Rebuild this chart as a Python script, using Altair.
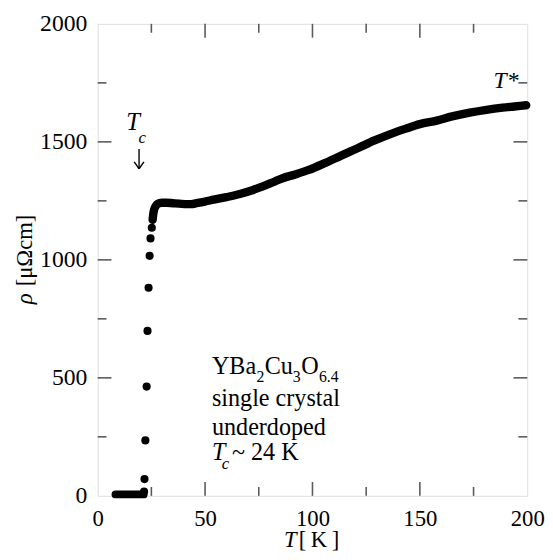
import altair as alt
import pandas as pd

# ---- data ----
# superconducting state (rho ~ 0), dense band of points
T_zero = [8.3, 21.4]
rho_zero = [6, 6]

# resolved points through the transition
T_trans = [21.6, 21.8, 22.2, 22.8, 23.2, 23.7, 24.2, 24.6, 25.2]
rho_trans = [18, 71, 235, 463, 699, 882, 1017, 1091, 1136]

# normal state (dense points, appear as a thick band)
T_norm = [25.6, 25.9, 26.3, 26.9, 27.6, 28.6, 30.0, 32.0, 35.0, 38.0, 41.7, 43.5,
          46.0, 50.0, 54.0, 60.0, 66.2, 72.0, 76.9, 82.6, 86.1, 92.0, 98.3, 106.0,
          113.6, 121.0, 128.9, 136.0, 143.5, 150.0, 157.9, 165.0, 173.2, 181.0,
          188.5, 194.0, 199.5]
rho_norm = [1170, 1195, 1213, 1226, 1235, 1240, 1242, 1242, 1240, 1238, 1236, 1236,
            1240, 1247, 1255, 1266, 1279, 1295, 1311, 1333, 1346, 1362, 1381, 1411,
            1443, 1473, 1506, 1532, 1556, 1575, 1590, 1608, 1624, 1636, 1645, 1650,
            1655]

x_labels = [0, 50, 100, 150, 200]
y_labels = [0, 500, 1000, 1500, 2000]
x_major = [50, 100, 150]
x_minor = [25, 75, 125, 175]
y_major = [500, 1000, 1500]
y_minor = [250, 750, 1250, 1750]

# Tc arrow (stem and two barbs), in data units
arrow_T1 = [19.27, 19.27, 19.27]
arrow_r1 = [1470, 1386, 1386]
arrow_T2 = [19.27, 17.0, 21.55]
arrow_r2 = [1386, 1415, 1415]

# ---- layout ----
W, H = 436, 479
FONT = "Liberation Serif"
FRAME = "#5a5a5a"
MAJ, MIN = 14, 9

xs = alt.Scale(domain=[0, 200], nice=False, zero=False)
ys = alt.Scale(domain=[0, 2000], nice=False, zero=False)

X_AXIS = alt.Axis(
    values=x_labels, format="d", title=None, grid=False, domain=False,
    ticks=False, labelFont=FONT, labelFontSize=23, labelColor="black",
    labelPadding=12, labelFlush=False)
Y_AXIS = alt.Axis(
    values=y_labels, format="d", title=None, grid=False, domain=False,
    ticks=False, labelFont=FONT, labelFontSize=24, labelColor="black",
    labelPadding=11)


def X(field="T"):
    return alt.X(f"{field}:Q", scale=xs, axis=X_AXIS)


def Y(field="rho"):
    return alt.Y(f"{field}:Q", scale=ys, axis=Y_AXIS)


df_zero = pd.DataFrame({"T": T_zero, "rho": rho_zero})
df_trans = pd.DataFrame({"T": T_trans, "rho": rho_trans})
df_norm = pd.DataFrame({"T": T_norm, "rho": rho_norm})
df_arrow = pd.DataFrame({"T": arrow_T1, "rho": arrow_r1, "T2": arrow_T2, "rho2": arrow_r2})

zero_line = alt.Chart(df_zero).mark_line(
    color="black", strokeWidth=8, strokeCap="round").encode(x=X(), y=Y())

norm_line = alt.Chart(df_norm).mark_line(
    color="black", strokeWidth=8.5, strokeCap="round", strokeJoin="round",
    interpolate="monotone").encode(x=X(), y=Y())

dots = alt.Chart(df_trans).mark_circle(color="black", size=68, opacity=1).encode(
    x=X(), y=Y())

arrow = alt.Chart(df_arrow).mark_rule(color="black", strokeWidth=1.4).encode(
    x=X(), y=Y(), x2="T2:Q", y2="rho2:Q")


def xticks(vals, length, top):
    d = pd.DataFrame({"T": vals})
    if top:
        y0, y1 = 0, length
    else:
        y0, y1 = H, H - length
    return alt.Chart(d).mark_rule(color=FRAME, strokeWidth=1.6).encode(
        x=X(), y=alt.value(y0), y2=alt.value(y1))


def yticks(vals, length, right):
    d = pd.DataFrame({"rho": vals})
    if right:
        x0, x1 = W, W - length
    else:
        x0, x1 = 0, length
    return alt.Chart(d).mark_rule(color=FRAME, strokeWidth=1.6).encode(
        y=Y(), x=alt.value(x0), x2=alt.value(x1))


tick_layers = [
    xticks(x_major, MAJ, False), xticks(x_minor, MIN, False),
    xticks(x_major, MAJ, True), xticks(x_minor, MIN, True),
    yticks(y_major, MAJ, False), yticks(y_minor, MIN, False),
    yticks(y_major, MAJ, True), yticks(y_minor, MIN, True),
]


def label(text, T, rho, size=24.5, italic=False, align="left", baseline="alphabetic"):
    d = pd.DataFrame({"T": [T], "rho": [rho], "s": [text]})
    return alt.Chart(d).mark_text(
        font=FONT, fontSize=size, fontStyle="italic" if italic else "normal",
        align=align, baseline=baseline, color="black").encode(
        x=X(), y=Y(), text="s:N")


def plabel(text, px, py, size=21, italic=False, align="left", baseline="alphabetic", angle=0):
    d = pd.DataFrame({"s": [text]})
    return alt.Chart(d).mark_text(
        font=FONT, fontSize=size, fontStyle="italic" if italic else "normal",
        align=align, baseline=baseline, angle=angle, color="black").encode(
        x=alt.value(px), y=alt.value(py), text="s:N")


annotations = [
    # compound annotation
    label("YBa", 53.2, 518),
    label("2", 74.0, 484, size=16),
    label("Cu", 77.8, 518),
    label("3", 90.8, 484, size=16),
    label("O", 94.8, 518),
    label("6.4", 103.0, 484, size=16),
    label("single crystal", 53.2, 380),
    label("underdoped", 53.2, 259),
    label("T", 53.2, 150, italic=True),
    label("c", 57.8, 113, size=17, italic=True),
    label("~ 24 K", 62.5, 150),
    # Tc marker
    label("T", 13.3, 1549, size=25, italic=True),
    label("c", 19.0, 1497, size=17, italic=True),
    # T* marker
    label("T*", 184.3, 1729, size=24, italic=True),
    # axis titles
    plabel("T", 202, 531, size=23, italic=True, align="right"),
    plabel("[\u2009K\u2009]", 204, 531, size=23),
    plabel("\u03c1", -74, 279, size=23, italic=True, align="center",
           baseline="middle", angle=270),
    plabel("[\u03bc\u03a9cm]", -74, 230, size=23, align="center",
           baseline="middle", angle=270),
]

chart = alt.layer(
    zero_line, norm_line, dots, arrow, *tick_layers, *annotations
).properties(
    width=W, height=H,
    autosize=alt.AutoSizeParams(type="none"),
    padding={"left": 91, "top": 12, "right": 18, "bottom": 60},
).configure_view(
    stroke=FRAME, strokeWidth=2
).configure(background="white")

chart.save("out.html", embed_options={"renderer": "svg", "actions": False})
